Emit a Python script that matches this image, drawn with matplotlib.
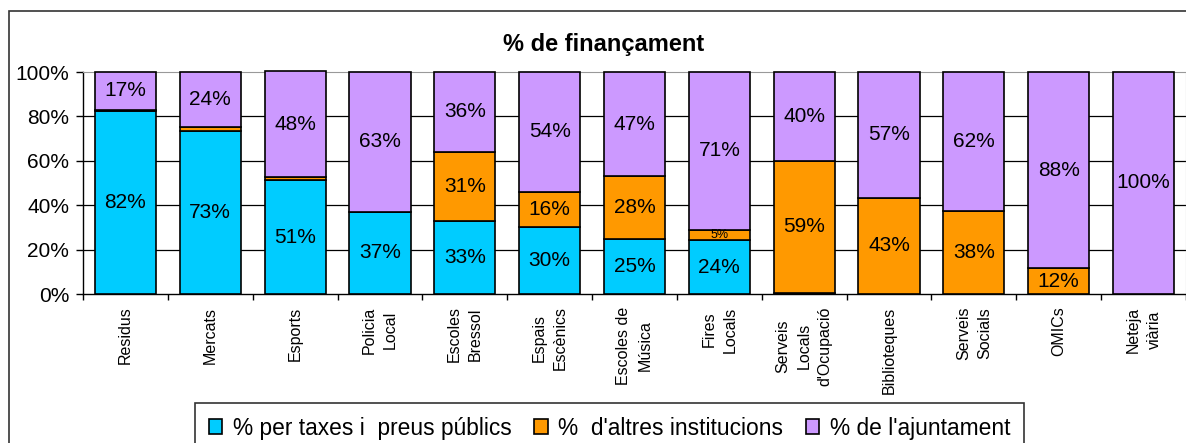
import matplotlib
matplotlib.use("Agg")
import matplotlib.pyplot as plt
import numpy as np
from matplotlib.patches import Patch, Rectangle

categories = ["Residus", "Mercats", "Esports", "Policia\nLocal", "Escoles\nBressol",
              "Espais\nEscènics", "Escoles de\nMúsica", "Fires\nLocals",
              "Serveis\nLocals\nd'Ocupació", "Biblioteques", "Serveis\nSocials",
              "OMICs", "Neteja\nviària"]

taxes = [82.5, 73.4, 51.2, 37, 33, 30, 25, 24.1, 0.5, 0, 0, 0, 0]
altres = [0.5, 2.0, 1.3, 0, 31, 16, 28, 4.9, 59.5, 43.3, 37.4, 11.5, 0]
ajuntament = [17, 24.6, 48.1, 63, 36, 54, 47, 71, 40, 56.7, 62.6, 88.5, 100]

taxes_lbl = ["82%", "73%", "51%", "37%", "33%", "30%", "25%", "24%", "", "", "", "", ""]
altres_lbl = ["", "", "", "", "31%", "16%", "28%", "5%", "59%", "43%", "38%", "12%", ""]
ajunt_lbl = ["17%", "24%", "48%", "63%", "36%", "54%", "47%", "71%", "40%", "57%", "62%", "88%", "100%"]

series_names = ["% per taxes i  preus públics", "%  d'altres institucions", "% de l'ajuntament"]
colors = ["#00CCFF", "#FF9900", "#CC99FF"]

plt.rcParams["font.family"] = ["Liberation Sans", "DejaVu Sans"]

W, H = 1186, 443
fig = plt.figure(figsize=(W / 100, H / 100), dpi=100)
ax = fig.add_axes([83 / W, 1 - 294 / H, (W - 83) / W, (294 - 72) / H])

x = np.arange(len(categories))
bw = 0.72
bottom = np.zeros(len(categories))
for vals, lbls, col in [(taxes, taxes_lbl, colors[0]), (altres, altres_lbl, colors[1]),
                        (ajuntament, ajunt_lbl, colors[2])]:
    vals = np.array(vals, dtype=float)
    ax.bar(x, vals, bw, bottom=bottom, color=col, edgecolor="black", linewidth=1.2,
           zorder=3, clip_on=False)
    for i, (v, s) in enumerate(zip(vals, lbls)):
        if s:
            fs = 9 if v < 8 else 15
            ax.text(x[i], bottom[i] + v / 2, s, ha="center", va="center", fontsize=fs, zorder=4)
    bottom += vals

ax.set_xlim(-0.5, len(categories) - 0.5)
ax.set_ylim(0, 100)
ax.set_yticks(np.arange(0, 101, 20))
ax.set_yticklabels([f"{v}%" for v in range(0, 101, 20)], fontsize=15)
ax.tick_params(axis="y", length=5, width=1, pad=5)
ax.set_xticks(x)
ax.set_xticklabels(categories, rotation=90, fontsize=11.5, multialignment="center",
                   linespacing=1.5)
ax.tick_params(axis="x", length=0, pad=9)
ax.set_xticks(np.arange(-0.5, len(categories), 1), minor=True)
ax.tick_params(axis="x", which="minor", length=4, width=1)

for v in range(20, 100, 20):
    ax.axhline(v, color="black", lw=0.9, zorder=1)
ax.spines["top"].set_color("#999999")
ax.spines["right"].set_color("#999999")
ax.spines["left"].set_linewidth(1.0)
ax.spines["bottom"].set_linewidth(1.0)

fig.text(604 / W, 1 - 44 / H, "% de finançament", ha="center", va="center",
         fontsize=17, fontweight="bold")

# outer chart frame
fig.patches.append(Rectangle((8.5 / W, -0.1), 1.2, 1 - 11.5 / H + 0.1, transform=fig.transFigure,
                             fill=False, edgecolor="#333333", lw=1.2))

handles = [Patch(facecolor=c, edgecolor="black", lw=1.2) for c in colors]
leg = fig.legend(handles, series_names, ncol=3, loc="upper left",
                 bbox_to_anchor=(195 / W, 1 - 403 / H), borderaxespad=0,
                 frameon=True, fancybox=False, prop={"size": 16.4},
                 handlelength=0.6, handleheight=0.6, handletextpad=0.45, columnspacing=1.0,
                 borderpad=0.6)
leg.get_frame().set_edgecolor("black")
leg.get_frame().set_linewidth(1.2)

fig.savefig("out.png", dpi=100)
